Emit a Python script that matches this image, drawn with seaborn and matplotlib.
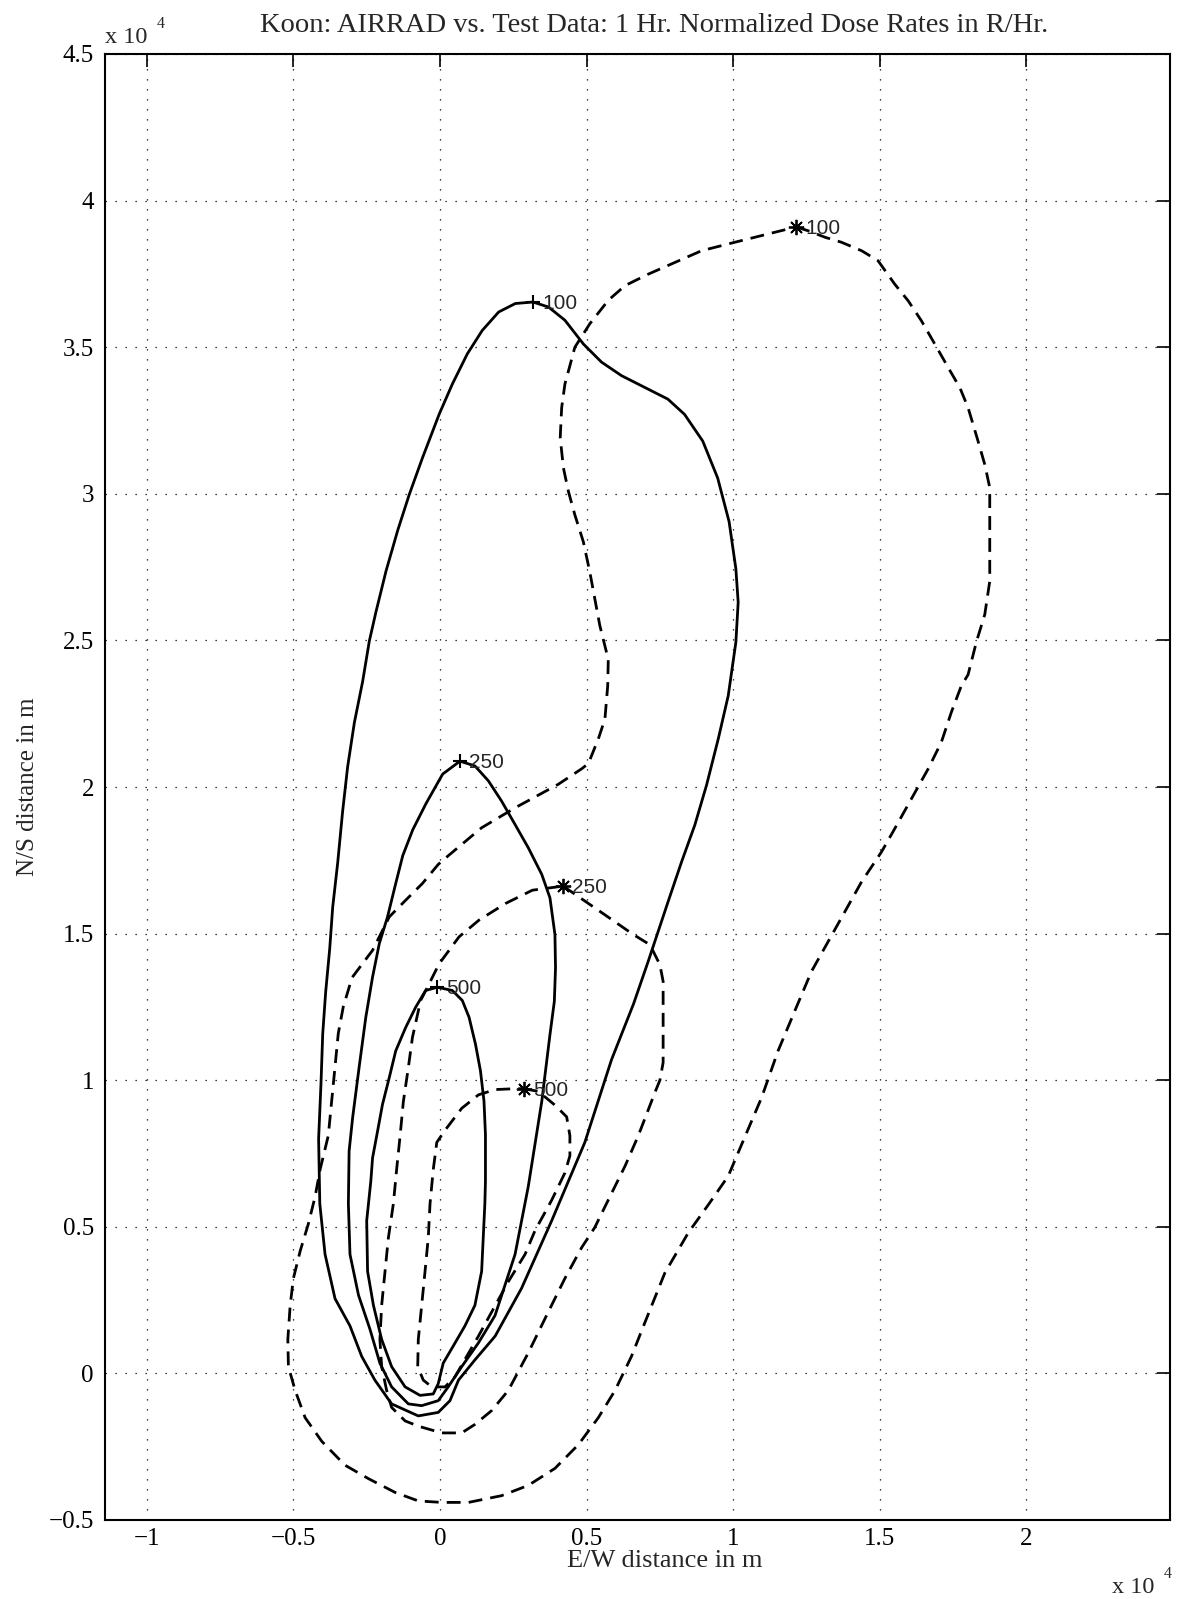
import matplotlib
matplotlib.use("Agg")
import matplotlib.pyplot as plt
import pandas as pd
import seaborn as sns

# ---- AIRRAD model contours (solid), metres; first point carries the label ----
airrad_100_x = [3170, 2570, 2000, 1440, 930, 420, -30, -600, -1050, -1440, -1840, -2180, -2410,
                -2640, -2920, -3150, -3320, -3490, -3660, -3760, -3900, -4000, -4060, -4140, -4100,
                -3920, -3580, -3070, -2670, -2220, -1650, -740, -60, 340, 630, 1190, 1880, 2780,
                3810, 4940, 5850, 6600, 7100, 7440, 7780, 8240, 8690, 9090, 9490, 9830, 10090,
                10170, 10090, 9860, 9470, 8960, 8340, 7770, 6980, 6190, 5510, 4890, 4260, 3700, 3170]
airrad_100_y = [36540, 36490, 36200, 35570, 34770, 33740, 32710, 31220, 29970, 28760, 27370, 25990,
                24980, 23590, 22200, 20690, 19180, 17410, 15900, 14500, 13000, 11580, 9860, 8000,
                5790, 4060, 2550, 1620, 580, -230, -1040, -1450, -1330, -930, -230, 460, 1270, 2900,
                5210, 7880, 10700, 12600, 14050, 15070, 16090, 17450, 18700, 20060, 21640, 23110,
                24930, 26300, 27450, 29050, 30540, 31800, 32710, 33230, 33630, 34030, 34490, 35110,
                35920, 36370, 36540]

airrad_250_x = [680, 90, -480, -930, -1270, -1510, -1790, -2070, -2300, -2530, -2760, -2980, -3100,
                -3125, -3070, -2780, -2390, -2050, -1650, -1080, -625, -60, 280, 740, 1310, 1875,
                2560, 3010, 3470, 3750, 3900, 3940, 3920, 3750, 3470, 3010, 2560, 2100, 1650, 1190, 680]
airrad_250_y = [20880, 20440, 19430, 18540, 17660, 16710, 15570, 14660, 13520, 12150, 10430, 8720,
                7580, 5790, 4060, 2670, 1510, 350, -460, -1040, -1100, -930, -460, 230, 1040, 1970,
                4060, 6370, 9270, 11550, 12690, 13830, 14970, 16220, 17020, 17930, 18720, 19520,
                20210, 20720, 20880]

airrad_500_x = [-90, 420, 760, 990, 1210, 1380, 1500, 1550, 1550, 1530, 1420, 1190, 850, 450, 110,
                -60, -230, -680, -1190, -1650, -1990, -2270, -2470, -2500, -2360, -2300, -2130,
                -1960, -1730, -1510, -1170, -830, -490, -90]
airrad_500_y = [13170, 13060, 12720, 12150, 11230, 10320, 9290, 8150, 6550, 5790, 3480, 2320, 1620,
                930, 350, -350, -700, -750, -460, 230, 1160, 2320, 3480, 5210, 6550, 7350, 8260,
                9180, 10090, 11000, 11800, 12490, 13060, 13170]

# ---- Test data contours (dashed), metres; first point carries the label ----
test_100_x = [12150, 12560, 13130, 13690, 14380, 14940, 15510, 15970, 16420, 16880, 17330, 17730,
              18010, 18350, 18580, 18750, 18750, 18750, 18580, 18300, 18010, 17780, 17440, 17100,
              16650, 16080, 15510, 15060, 14380, 13810, 13240, 12670, 12100, 11530, 10970, 10510,
              10000, 9830, 9200, 8470, 7670, 6990, 6530, 5970, 5400, 4720, 3920, 3010, 2100, 970,
              60, -740, -1530, -2440, -3240, -4030, -4600, -4940, -5170, -5190, -5110, -5000, -4770,
              -4490, -4260, -4090, -3810, -3640, -3470, -3300, -3000, -2300, -1730, -1170, -600,
              -60, 310, 1420, 2560, 4030, 4830, 5060, 5400, 5625, 5720, 5740, 5680, 5450, 5280,
              5110, 4890, 4600, 4380, 4210, 4100, 4150, 4260, 4600, 5110, 5740, 6310, 7100, 8010,
              8920, 10060, 11420, 12150]
test_100_y = [39100, 38970, 38750, 38580, 38290, 37950, 37150, 36580, 35900, 35100, 34310, 33620,
              32940, 31800, 31000, 30210, 29290, 27020, 25880, 24970, 23830, 23450, 22550, 21530,
              20620, 19600, 18580, 17790, 16770, 15750, 14730, 13710, 12360, 11000, 9410, 8330,
              7130, 6730, 5820, 4800, 3430, 1740, 580, -580, -1510, -2430, -3240, -3820, -4170,
              -4400, -4400, -4350, -4060, -3590, -3130, -2320, -1510, -580, 230, 1160, 2320, 3240,
              4170, 5100, 6030, 6950, 8110, 9850, 11590, 12500, 13500, 14430, 15570, 16140, 16710,
              17360, 17680, 18610, 19290, 20090, 20620, 20800, 21640, 22320, 23450, 24400, 24590,
              25510, 26420, 27330, 28360, 29280, 30080, 30880, 31910, 32940, 33740, 35000, 35800,
              36600, 37100, 37490, 37890, 38290, 38580, 38920, 39100]

test_250_x = [4200, 5625, 6590, 7160, 7500, 7610, 7610, 7500, 7330, 6760, 6310, 5850, 5280, 4830,
              4260, 3690, 3010, 2330, 1760, 1190, 740, 60, -740, -1190, -1650, -1820, -1990, -2050,
              -1990, -1875, -1760, -1590, -1480, -1360, -1250, -1080, -940, -660, -370, -30, 650,
              1330, 2240, 3150, 4200]
test_250_y = [16620, 15640, 14970, 14620, 13940, 13370, 10600, 10000, 9580, 8100, 7070, 6140, 4980,
              4290, 3240, 2090, 700, -580, -1270, -1740, -2030, -2030, -1800, -1620, -1160, -580,
              230, 1160, 2320, 3480, 4630, 5790, 6950, 8110, 9270, 10430, 11460, 12720, 13290,
              13970, 14890, 15460, 16030, 16480, 16620]

test_500_x = [2860, 3350, 3920, 4320, 4430, 4430, 4260, 3810, 3240, 2900, 2330, 1760, 1310, 910,
              510, 170, -280, -570, -760, -740, -625, -510, -400, -340, -230, -110, 170, 740, 1310,
              1875, 2560, 2860]
test_500_y = [9710, 9620, 9150, 8750, 8110, 7420, 6840, 5910, 4870, 4060, 3130, 2090, 1270, 580,
              -120, -460, -460, -230, 230, 1160, 2320, 3480, 4630, 5790, 6950, 7880, 8290, 9040,
              9500, 9680, 9710, 9710]

levels = ["100", "250", "500"]

x_ticks = [-10000, -5000, 0, 5000, 10000, 15000, 20000]
x_tick_labels = ["\u22121", "\u22120.5", "0", "0.5", "1", "1.5", "2"]
y_ticks = [-5000, 0, 5000, 10000, 15000, 20000, 25000, 30000, 35000, 40000, 45000]
y_tick_labels = ["\u22120.5", "0", "0.5", "1", "1.5", "2", "2.5", "3", "3.5", "4", "4.5"]

title = "Koon: AIRRAD vs. Test Data: 1 Hr. Normalized Dose Rates in R/Hr."
x_label = "E/W distance in m"
y_label = "N/S distance in m"

sns.set_theme(style="white")
plt.rcParams["font.family"] = ["Liberation Serif", "DejaVu Serif"]
plt.rcParams["axes.unicode_minus"] = True

W, H = 1178, 1599
fig = plt.figure(figsize=(W / 100, H / 100), dpi=100, facecolor="white")
ax_l, ax_r, ax_t, ax_b = 105, 1170, 54, 1520
ax = fig.add_axes([ax_l / W, 1 - ax_b / H, (ax_r - ax_l) / W, (ax_b - ax_t) / H])
ax.set_facecolor("white")

solid = [(airrad_100_x, airrad_100_y), (airrad_250_x, airrad_250_y), (airrad_500_x, airrad_500_y)]
dashed = [(test_100_x, test_100_y), (test_250_x, test_250_y), (test_500_x, test_500_y)]

for cx, cy in solid:
    sns.lineplot(data=pd.DataFrame({"x": cx, "y": cy}), x="x", y="y", sort=False,
                 estimator=None, color="black", linewidth=2.0, ax=ax, zorder=3)
for cx, cy in dashed:
    sns.lineplot(data=pd.DataFrame({"x": cx, "y": cy}), x="x", y="y", sort=False,
                 estimator=None, color="black", linewidth=2.0, linestyle=(0, (5.0, 2.9)),
                 ax=ax, zorder=3)

# level markers and labels
for (cx, cy), lev in zip(solid, levels):
    ax.plot(cx[0], cy[0], marker="+", markersize=10, markeredgewidth=1.5, color="black", zorder=4)
    ax.annotate(lev, (cx[0], cy[0]), xytext=(6.5, -1), textcoords="offset points",
                ha="left", va="center", fontsize=15, family="Liberation Sans", zorder=5)
for (cx, cy), lev in zip(dashed, levels):
    ax.plot(cx[0], cy[0], marker=(8, 2, 0), markersize=11, markeredgewidth=1.3, color="black",
            zorder=4)
    ax.annotate(lev, (cx[0], cy[0]), xytext=(6.5, -1), textcoords="offset points",
                ha="left", va="center", fontsize=15, family="Liberation Sans", zorder=5)

px_per_m = (ax_b - ax_t) / 50000
x0_px = 440
ax.set_xlim(-(x0_px - ax_l) / px_per_m, (ax_r - x0_px) / px_per_m)
ax.set_ylim(-5000, 45000)
ax.set_xticks(x_ticks)
ax.set_xticklabels(x_tick_labels)
ax.set_yticks(y_ticks)
ax.set_yticklabels(y_tick_labels)
ax.set_xlabel("")
ax.set_ylabel("")

ax.grid(True, color="black", linestyle=(0, (1, 7)), linewidth=0.9)
ax.set_axisbelow(True)
ax.tick_params(axis="both", direction="in", length=9.5, width=1.2, color="black",
               top=True, right=True, labelsize=18, labelcolor="black")
ax.tick_params(axis="x", pad=6)
ax.tick_params(axis="y", pad=8)
for sp in ax.spines.values():
    sp.set_visible(True)
    sp.set_color("black")
    sp.set_linewidth(1.5)

fig.text(654 / W, 1 - 32 / H, title, ha="center", va="baseline", fontsize=20.5)
fig.text(665 / W, 1 - 1567 / H, x_label, ha="center", va="baseline", fontsize=19)
fig.text(28 / W, 1 - 787 / H, y_label, ha="center", va="center", rotation=90, fontsize=18)

# axis multipliers
fig.text(105 / W, 1 - 43 / H, "x 10", ha="left", va="baseline", fontsize=17.5)
fig.text(157 / W, 1 - 28 / H, "4", ha="left", va="baseline", fontsize=11.5)
fig.text(1112 / W, 1 - 1593 / H, "x 10", ha="left", va="baseline", fontsize=17.5)
fig.text(1164 / W, 1 - 1578 / H, "4", ha="left", va="baseline", fontsize=11.5)

fig.savefig("out.png", dpi=100, facecolor="white")
